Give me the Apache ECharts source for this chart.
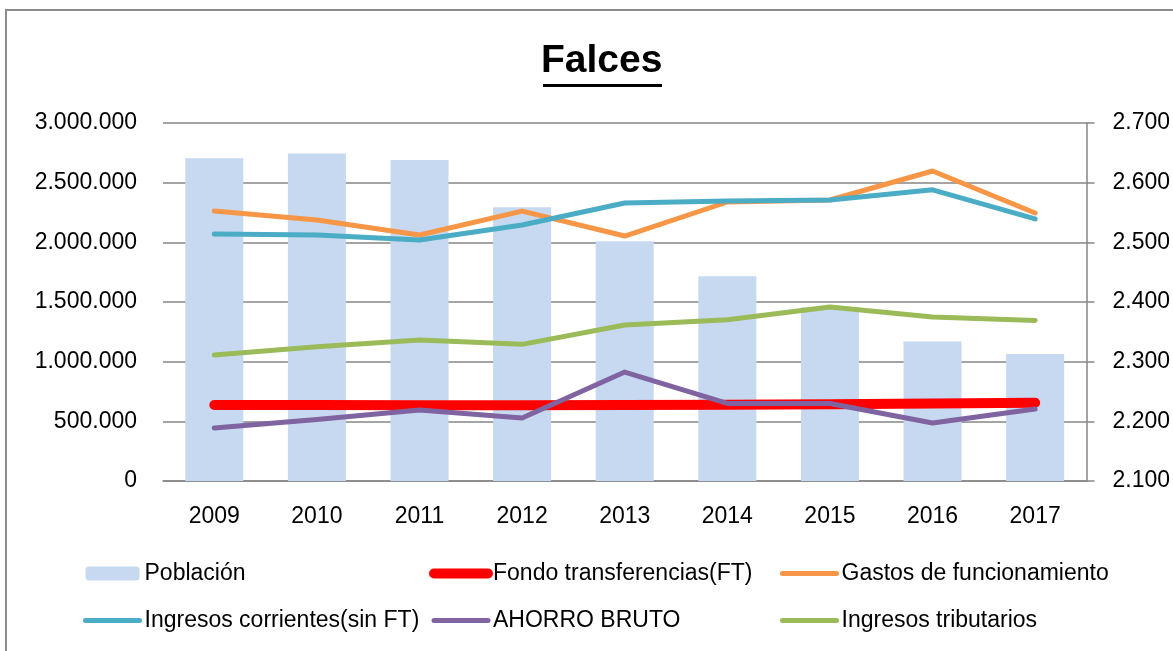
<!DOCTYPE html>
<html>
<head>
<meta charset="utf-8">
<script src="https://cdn.jsdelivr.net/npm/echarts@6/dist/echarts.min.js"></script>
<style>
  html, body { margin: 0; padding: 0; background: #fff; }
  #chart { width: 1173px; height: 651px; }
</style>
</head>
<body>
<div id="chart"></div>
<script>
var years = ['2009', '2010', '2011', '2012', '2013', '2014', '2015', '2016', '2017']
// habitantes (eje derecho)
var poblacion = [2641, 2649, 2638, 2559, 2502, 2443, 2391, 2334, 2313]
// euros (eje izquierdo)
var fondoFT = [637000, 637000, 635000, 635000, 637000, 640000, 643000, 650000, 656000]
var gastos = [2262000, 2187000, 2061000, 2262000, 2053000, 2338000, 2355000, 2598000, 2246000]
var ingresosCorrientes = [2070000, 2061000, 2020000, 2145000, 2330000, 2346000, 2355000, 2440000, 2196000]
var ahorroBruto = [444000, 515000, 595000, 528000, 913000, 650000, 650000, 486000, 603000]
var ingresosTributarios = [1056000, 1125000, 1182000, 1145000, 1307000, 1352000, 1458000, 1374000, 1345000]

var font = '"Liberation Sans", Arial, sans-serif'

function miles (v) {
  return String(v).replace(/\B(?=(\d{3})+(?!\d))/g, '.')
}

function linea (name, data, color, width) {
  return {
    name: name,
    type: 'line',
    yAxisIndex: 0,
    data: data,
    symbol: 'none',
    lineStyle: { color: color, width: width, cap: 'round', join: 'round' },
    itemStyle: { color: color }
  }
}

// entrada de leyenda de una serie de linea: solo el trazo, sin simbolo
function itemLinea (name, width) {
  return { name: name, itemStyle: { opacity: 0 }, lineStyle: { width: width, cap: 'round' } }
}

var myChart = echarts.init(document.getElementById('chart'))
var legendBase = {
  orient: 'vertical',
  top: 562,
  padding: 0,
  itemWidth: 54,
  itemHeight: 14,
  itemGap: 24,
  textStyle: { fontFamily: font, fontSize: 23, color: '#000' }
}
var option = {
  animation: false,
  title: {
    text: 'Falces',
    left: 541,
    top: 42,
    padding: 0,
    textStyle: { fontFamily: font, fontSize: 39, fontWeight: 'bold', color: '#000' }
  },
  graphic: [
    { type: 'rect', shape: { x: 6, y: 10, width: 1300, height: 800 }, style: { fill: 'none', stroke: '#8c8c8c', lineWidth: 2 }, silent: true },
    { type: 'rect', shape: { x: 543, y: 84, width: 119, height: 3 }, style: { fill: '#000' }, silent: true }
  ],
  legend: [
    Object.assign({}, legendBase, { left: 83, data: ['Población', itemLinea('Ingresos corrientes(sin FT)', 5)] }),
    Object.assign({}, legendBase, { left: 429, data: [itemLinea('Fondo transferencias(FT)', 10), itemLinea('AHORRO BRUTO', 5)] }),
    Object.assign({}, legendBase, { left: 780, data: [itemLinea('Gastos de funcionamiento', 5), itemLinea('Ingresos tributarios', 5)] })
  ],
  grid: { left: 163, right: 86, top: 123, bottom: 170 },
  xAxis: {
    type: 'category',
    data: years,
    axisLine: { lineStyle: { color: '#868686', width: 1.5 } },
    axisTick: { show: false },
    axisLabel: { fontFamily: font, fontSize: 23, color: '#000', margin: 24 }
  },
  yAxis: [{
    type: 'value',
    min: 0,
    max: 3000000,
    interval: 500000,
    axisLine: { show: false },
    axisTick: { show: false },
    splitLine: { lineStyle: { color: '#868686', width: 1.5 } },
    axisLabel: { fontFamily: font, fontSize: 23, color: '#000', margin: 26, formatter: miles }
  }, {
    type: 'value',
    min: 2100,
    max: 2700,
    interval: 100,
    position: 'right',
    axisLine: { show: true, lineStyle: { color: '#868686', width: 1.5 } },
    axisTick: { show: true, length: 8, lineStyle: { color: '#868686', width: 1.5 } },
    splitLine: { show: false },
    axisLabel: { fontFamily: font, fontSize: 23, color: '#000', margin: 26, formatter: miles }
  }],
  series: [
    {
      name: 'Población',
      type: 'bar',
      yAxisIndex: 1,
      barWidth: 58,
      data: poblacion,
      itemStyle: { color: '#c6d9f1' }
    },
    linea('Fondo transferencias(FT)', fondoFT, '#ff0000', 10),
    linea('Gastos de funcionamiento', gastos, '#f79646', 5),
    linea('Ingresos corrientes(sin FT)', ingresosCorrientes, '#4bacc6', 5),
    linea('AHORRO BRUTO', ahorroBruto, '#8064a2', 5),
    linea('Ingresos tributarios', ingresosTributarios, '#9bbb59', 5)
  ]
}
myChart.setOption(option)
</script>
</body>
</html>
